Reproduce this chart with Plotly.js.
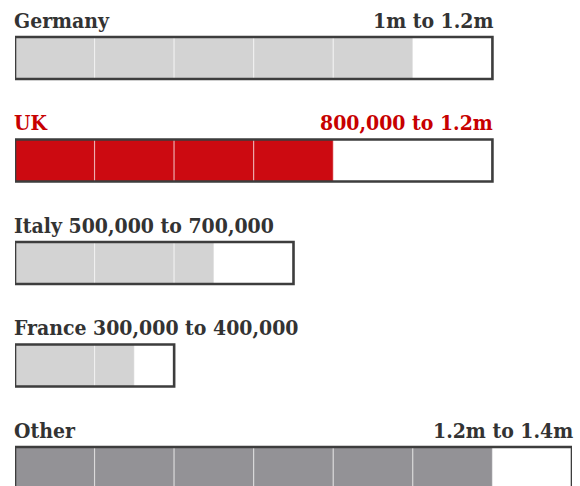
<!DOCTYPE html>
<html>
<head>
<meta charset="utf-8">
<script src="https://cdn.plot.ly/plotly-3.0.1.min.js"></script>
<style>
  html, body { margin: 0; padding: 0; background: #fff; }
  #chart { width: 580px; height: 486px; }
</style>
</head>
<body>
<div id="chart"></div>
<script>
// ---- data ----
const countries = ["Germany", "UK", "Italy", "France", "Other"];
const lowEstimate = [1000000, 800000, 500000, 300000, 1200000];
const highEstimate = [1200000, 1200000, 700000, 400000, 1400000];
const segmentStep = 200000;

// ---- styles ----
const fillColors = {
  Germany: "#d3d3d3",
  UK: "#cc0a11",
  Italy: "#d3d3d3",
  France: "#d3d3d3",
  Other: "#939296"
};
const textColors = {
  Germany: "#333333",
  UK: "#c70000",
  Italy: "#333333",
  France: "#333333",
  Other: "#333333"
};
const outlineColor = "#3d3d3d";
const FONT = "'DejaVu Serif Condensed', 'DejaVu Serif', serif";
const BAR_W = 0.41;

function fmt(v) {
  if (v >= 1000000) return (v / 1000000) + "m";
  return v.toLocaleString("en-US");
}

const rows = countries.map((c, i) => i);
const traces = [];
const maxSeg = Math.ceil(Math.max(...lowEstimate) / segmentStep);
for (let k = 0; k < maxSeg; k++) {
  const xs = lowEstimate.map(v => {
    const rem = v - k * segmentStep;
    if (rem <= 0) return null;
    return Math.min(rem, segmentStep);
  });
  traces.push({
    type: "bar",
    orientation: "h",
    y: rows,
    x: xs,
    base: lowEstimate.map(() => k * segmentStep),
    width: BAR_W,
    marker: {
      color: countries.map(c => fillColors[c]),
      line: { color: "rgba(255,255,255,0.45)", width: 1.2 }
    },
    hoverinfo: "skip",
    showlegend: false
  });
}
// outline showing the upper estimate
traces.push({
  type: "bar",
  orientation: "h",
  y: rows,
  x: highEstimate,
  base: highEstimate.map(() => 0),
  width: BAR_W,
  marker: {
    color: "rgba(0,0,0,0)",
    line: { color: outlineColor, width: 2.6 }
  },
  hoverinfo: "skip",
  showlegend: false
});

const annotations = [];
countries.forEach((c, i) => {
  const rangeText = fmt(lowEstimate[i]) + " to " + fmt(highEstimate[i]);
  const inline = highEstimate[i] < 1000000;
  const yTop = i - BAR_W / 2;
  annotations.push({
    xref: "x", yref: "y",
    x: 0, y: yTop,
    xanchor: "left", yanchor: "bottom",
    xshift: -3, yshift: 2,
    showarrow: false,
    text: inline ? c + " " + rangeText : c,
    font: { family: FONT, size: 21, weight: 700, color: textColors[c] }
  });
  if (!inline) {
    annotations.push({
      xref: "x", yref: "y",
      x: highEstimate[i], y: yTop,
      xanchor: "right", yanchor: "bottom",
      xshift: 3, yshift: 2,
      showarrow: false,
      text: rangeText,
      font: { family: FONT, size: 21, weight: 700, color: textColors[c] }
    });
  }
});

const layout = {
  width: 580,
  height: 486,
  margin: { l: 15, r: 8, t: 0, b: 0, pad: 0 },
  paper_bgcolor: "#ffffff",
  plot_bgcolor: "#ffffff",
  barmode: "overlay",
  showlegend: false,
  hovermode: false,
  xaxis: {
    range: [0, 1400000],
    showgrid: false, zeroline: false, showticklabels: false, showline: false, ticks: ""
  },
  yaxis: {
    range: [4.176, -0.566],
    showgrid: false, zeroline: false, showticklabels: false, showline: false, ticks: ""
  },
  annotations: annotations
};

Plotly.newPlot("chart", traces, layout, { staticPlot: true, displayModeBar: false });
</script>
</body>
</html>
